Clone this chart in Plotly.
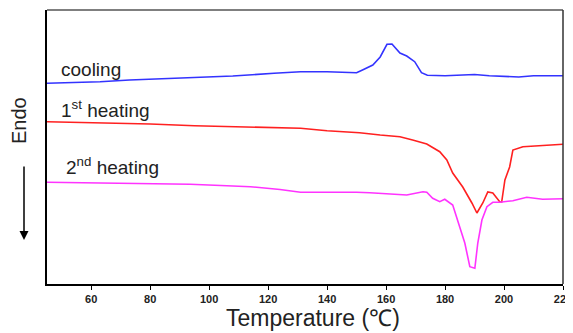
import plotly.graph_objects as go

# Cooling curve (blue)
cool_T = [45, 63, 73, 83, 97, 108, 122, 131, 140, 150, 152, 155.5, 158, 160.3, 162, 164.7, 167, 169.7, 172, 174, 180, 190, 195, 205, 210, 220]
cool_v = [200.7, 202.3, 204, 205, 206.7, 208, 210.7, 212.3, 212.3, 211.3, 214, 219, 227, 239.7, 240, 231, 228, 222.3, 211.3, 208.7, 208.3, 209.5, 208.3, 207, 208.3, 208.3]

# 1st heating (red)
h1_T = [45, 66, 80, 95, 110, 122, 131, 140, 151, 158, 164.7, 169, 173.8, 178.2, 180.6, 182.6, 186, 189.1, 190.8, 192.8, 194.5, 196.2, 198.6, 199.2, 200.3, 201.9, 203, 206.4, 214.5, 220]
h1_v = [162.3, 161.3, 160, 158.3, 157.3, 156, 155.7, 153.3, 151.3, 149, 147.3, 144, 140, 132.3, 124, 111, 97, 81, 71, 81, 92, 91, 82, 82, 104, 117, 134, 137.3, 139, 139.7]

# 2nd heating (magenta)
h2_T = [45, 73, 93.5, 106, 114, 124, 131, 150, 154.5, 167, 172.5, 173.8, 175.8, 178.2, 179.9, 182.6, 184.3, 186.7, 188.4, 190.1, 191.1, 192.5, 194.2, 196.2, 198.6, 203, 207.7, 213.1, 220]
h2_v = [101.7, 100.7, 99.7, 98.3, 97.3, 94.5, 91.8, 91.7, 91.3, 89, 92.3, 91.7, 85.7, 82.3, 84.7, 79, 64, 41, 17.3, 15.7, 41, 64, 77.3, 81.7, 81.7, 83.3, 86.7, 84.7, 85.3]

x_ticks = [60, 80, 100, 120, 140, 160, 180, 200, 220]

# page has an 8px body margin; compensate so the plot sits where the reference has it
OFF = 8
W, H = 573 - OFF, 333 - OFF
ML, MR, MT, MB = 47 - OFF, 10, 10 - OFF, 49
PW, PH = W - ML - MR, H - MT - MB


def px(x):  # screen px -> paper
    return (x - OFF - ML) / PW


def py(y):
    return 1 - (y - OFF - MT) / PH


fig = go.Figure()
fig.add_trace(go.Scatter(x=cool_T, y=cool_v, mode="lines", line=dict(color="#3333ff", width=1.6)))
fig.add_trace(go.Scatter(x=h1_T, y=h1_v, mode="lines", line=dict(color="#ff2020", width=1.6)))
fig.add_trace(go.Scatter(x=h2_T, y=h2_v, mode="lines", line=dict(color="#ff33ff", width=1.6)))

font_main = "Liberation Sans, Arial, sans-serif"
lab = dict(size=19, color="#222")
fig.update_layout(
    width=W, height=H,
    margin=dict(l=ML, r=MR, t=MT, b=MB, autoexpand=False),
    paper_bgcolor="white", plot_bgcolor="white",
    showlegend=False,
    font=dict(family=font_main, color="black"),
    xaxis=dict(range=[45, 220], tickvals=x_ticks, ticktext=["<b>%d</b>" % t for t in x_ticks],
               ticks="outside", ticklen=4, tickcolor="black", showgrid=False, zeroline=False,
               showline=True, linecolor="black", linewidth=1.5, automargin=False,
               tickfont=dict(size=11, family=font_main, color="#222")),
    yaxis=dict(range=[0, 274], showticklabels=False, ticks="", showgrid=False, zeroline=False,
               showline=True, linecolor="black", linewidth=1.5, automargin=False),
    shapes=[
        dict(type="line", xref="paper", yref="paper", x0=0, x1=1, y0=1, y1=1, line=dict(color="#555", width=1.5)),
        dict(type="line", xref="paper", yref="paper", x0=1, x1=1, y0=0, y1=1, line=dict(color="#333", width=1.5)),
    ],
    annotations=[
        dict(text="cooling", x=px(59), y=py(70), xref="paper", yref="paper", showarrow=False,
             xanchor="left", yanchor="middle", font=lab),
        dict(text="1<sup>st</sup> heating", x=px(59), y=py(109), xref="paper", yref="paper", showarrow=False,
             xanchor="left", yanchor="middle", font=lab),
        dict(text="2<sup>nd</sup> heating", x=px(64), y=py(166), xref="paper", yref="paper", showarrow=False,
             xanchor="left", yanchor="middle", font=lab),
        dict(text="Endo", x=px(19), y=py(121), xref="paper", yref="paper", textangle=-90, showarrow=False,
             xanchor="center", yanchor="middle", font=dict(size=20, color="#222")),
        dict(text="Temperature (℃)", x=px(313), y=py(318), xref="paper", yref="paper", showarrow=False,
             xanchor="center", yanchor="middle", font=dict(size=23, color="#222")),
        dict(x=px(24), y=py(240), ax=0, ay=-75, xref="paper", yref="paper", axref="pixel", ayref="pixel",
             showarrow=True, arrowhead=2, arrowsize=1.2, arrowwidth=1.5, arrowcolor="black", text=""),
    ],
)
fig.write_html("out.html")
